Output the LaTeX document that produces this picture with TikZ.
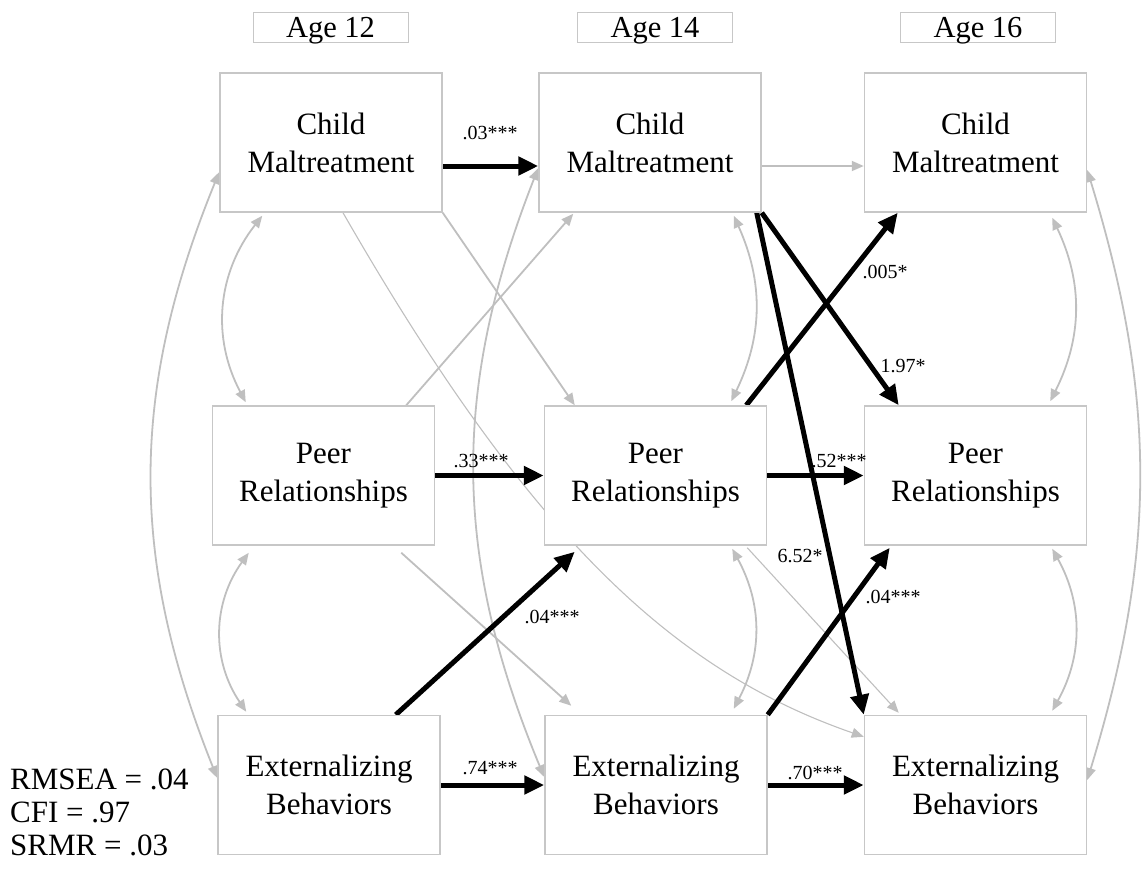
\documentclass[tikz,border=0pt]{standalone}
\usepackage{fontspec}
\setmainfont{Liberation Serif}
\usetikzlibrary{arrows.meta,backgrounds}

\tikzset{
  var/.style={draw=black!22, line width=1.5pt, fill=white, minimum width=222pt,
    minimum height=139pt, align=center, inner sep=0pt,
    font=\fontsize{31}{38}\selectfont},
  agebox/.style={draw=black!22, line width=1pt, minimum width=155pt,
    minimum height=30pt, inner sep=0pt, text depth=0pt,
    font=\fontsize{30.5}{36}\selectfont},
  coef/.style={anchor=base, inner sep=0pt, font=\fontsize{20}{24}\selectfont},
  sig/.style={-{Triangle[length=20pt,width=18pt]}, line width=5pt},
  nsig/.style={-{Triangle[length=12pt,width=10pt]}, draw=gray!50, line width=1.8pt},
  nsigthin/.style={nsig, line width=1.1pt},
  cov/.style={{Triangle[length=12pt,width=10pt]}-{Triangle[length=12pt,width=10pt]},
    draw=gray!50, line width=1.8pt}
}

\begin{document}
\begin{tikzpicture}[x=1pt, y=1pt]
    \useasboundingbox (0,0) rectangle (1144,-871);

    % waves
    \node[agebox] (age12) at (330.5,-27) {Age 12};
    \node[agebox] (age14) at (655,-27) {Age 14};
    \node[agebox] (age16) at (978,-27) {Age 16};

    % observed variables
    \node[var] (cm12) at (331,-142.5) {Child\\Maltreatment};
    \node[var] (cm14) at (650,-142.5) {Child\\Maltreatment};
    \node[var] (cm16) at (975.5,-142.5) {Child\\Maltreatment};
    \node[var] (pr12) at (323.5,-475.5) {Peer\\Relationships};
    \node[var] (pr14) at (655.5,-475.5) {Peer\\Relationships};
    \node[var] (pr16) at (975.5,-475.5) {Peer\\Relationships};
    \node[var] (ex12) at (329,-785) {Externalizing\\Behaviors};
    \node[var] (ex14) at (656,-785) {Externalizing\\Behaviors};
    \node[var] (ex16) at (975.5,-785) {Externalizing\\Behaviors};

    \node[anchor=north west, align=left, inner sep=0pt,
      font=\fontsize{31}{33}\selectfont] (fit) at (10,-769)
      {RMSEA = .04\\CFI = .97\\SRMR = .03};

    \begin{pgfonlayer}{background}
    % covariances
    \draw[cov] ([shift={(43pt,-3pt)}]cm12.south west) to[bend right=33] ([shift={(34pt,3pt)}]pr12.north west);
    \draw[cov] ([shift={(37pt,-7pt)}]pr12.south west) to[bend right=35] ([shift={(29pt,3pt)}]ex12.north west);
    \draw[cov] ([shift={(-28pt,-3pt)}]cm14.south east) to[bend left=25] ([shift={(-36pt,4pt)}]pr14.north east);
    \draw[cov] ([shift={(-35pt,-3pt)}]pr14.south east) to[bend left=28] ([shift={(-34pt,6pt)}]ex14.north east);
    \draw[cov] ([shift={(-35pt,-5pt)}]cm16.south east) to[bend left=26] ([shift={(-37pt,4pt)}]pr16.north east);
    \draw[cov] ([shift={(-35pt,-3pt)}]pr16.south east) to[bend left=29] ([shift={(-35pt,4pt)}]ex16.north east);
    \draw[cov] ([yshift=-29.5pt]cm12.west) to[bend right=22] ([yshift=7pt]ex12.west);
    \draw[cov] ([yshift=-25.5pt]cm14.west) to[bend right=22] ([yshift=8pt]ex14.west);
    \draw[cov] ([yshift=-27.5pt]cm16.east) to[bend left=17] ([yshift=5pt]ex16.east);

    % non-significant paths
    \draw[nsig] ([yshift=-23.5pt]cm14.east) -- ([yshift=-23.5pt]cm16.west);
    \draw[nsig] (cm12.south east) -- ([xshift=31pt]pr14.north west);
    \draw[nsig] ([xshift=-29pt]pr12.north east) -- ([shift={(35pt,-1pt)}]cm14.south west);
    \draw[nsig] ([shift={(-34pt,-7pt)}]pr12.south east) -- ([shift={(27pt,9pt)}]ex14.north west);
    \draw[nsigthin] ([shift={(-20pt,-2pt)}]pr14.south east) -- ([shift={(35pt,2pt)}]ex16.north west);
    \draw[nsigthin] ([xshift=12pt]cm12.south) .. controls (527,-533) and (671,-670) .. ([yshift=-22pt]ex16.north west);

    % significant paths
    \draw[sig] ([yshift=-23.5pt]cm12.east) -- ([yshift=-23.5pt]cm14.west);
    \draw[sig] (pr12.east) -- (pr14.west);
    \draw[sig] (pr14.east) -- (pr16.west);
    \draw[sig] (ex12.east) -- (ex14.west);
    \draw[sig] (ex14.east) -- (ex16.west);
    \draw[sig] (cm14.south east) -- ([xshift=35pt]pr16.north west);
    \draw[sig] ([xshift=-5pt]cm14.south east) -- (ex16.north west);
    \draw[sig] ([xshift=-21pt]pr14.north east) -- ([xshift=34pt]cm16.south west);
    \draw[sig] ([xshift=-45pt]ex12.north east) -- ([shift={(31pt,-6pt)}]pr14.south west);
    \draw[sig] (ex14.north east) -- ([shift={(26pt,-2pt)}]pr16.south west);
    \end{pgfonlayer}

    % estimates
    \node[coef] (b1) at (490,-139) {.03***};
    \node[coef] (b2) at (481,-467) {.33***};
    \node[coef] (b3) at (839,-467) {.52***};
    \node[coef] (b4) at (490,-774) {.74***};
    \node[coef] (b5) at (815,-779) {.70***};
    \node[coef] (b6) at (885,-278) {.005*};
    \node[coef] (b7) at (903,-372) {1.97*};
    \node[coef] (b8) at (800,-562) {6.52*};
    \node[coef] (b9) at (552,-623) {.04***};
    \node[coef] (b10) at (893,-603) {.04***};
\end{tikzpicture}
\end{document}
